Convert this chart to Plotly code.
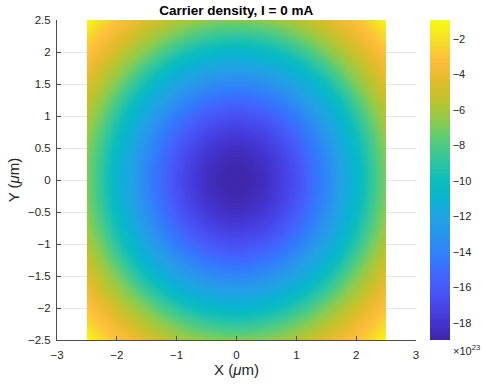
import numpy as np
import plotly.graph_objects as go

# Grid positions (µm) used on both axes
axis_um = [-2.5, -2.25, -2.0, -1.75, -1.5, -1.25, -1.0, -0.75, -0.5, -0.25, 0.0,
           0.25, 0.5, 0.75, 1.0, 1.25, 1.5, 1.75, 2.0, 2.25, 2.5]

# Carrier density (x 1e23) on the quadrant x, y = 0, 0.25, ..., 2.5 µm
# rows: y index, columns: x index
quadrant_density = [
    [-18.95, -18.75, -18.30, -17.50, -16.50, -15.20, -13.80, -12.20, -10.80, -8.90, -6.90],
    [-18.75, -18.56, -18.11, -17.34, -16.34, -15.06, -13.67, -12.10, -10.68, -8.79, -6.83],
    [-18.30, -18.11, -17.64, -16.89, -15.89, -14.66, -13.28, -11.81, -10.33, -8.46, -6.60],
    [-17.50, -17.34, -16.89, -16.18, -15.20, -14.04, -12.67, -11.34, -9.77, -7.93, -6.24],
    [-16.50, -16.34, -15.89, -15.20, -14.28, -13.16, -11.90, -10.68, -9.01, -7.20, -5.75],
    [-15.20, -15.06, -14.66, -14.04, -13.16, -12.10, -11.07, -9.66, -8.03, -6.46, -5.17],
    [-13.80, -13.67, -13.28, -12.67, -11.90, -11.07, -9.88, -8.46, -6.90, -5.67, -4.54],
    [-12.20, -12.10, -11.81, -11.34, -10.68, -9.66, -8.46, -7.10, -5.96, -4.88, -3.83],
    [-10.80, -10.68, -10.33, -9.77, -9.01, -8.03, -6.90, -5.96, -4.99, -4.05, -3.05],
    [-8.90, -8.79, -8.46, -7.93, -7.20, -6.46, -5.67, -4.88, -4.05, -3.15, -2.10],
    [-6.90, -6.83, -6.60, -6.24, -5.75, -5.17, -4.54, -3.83, -3.05, -2.10, -1.00],
]

cbar_ticks = [-18, -16, -14, -12, -10, -8, -6, -4, -2]
z_min, z_max = -18.95, -0.95

# parula-like colour map
parula = [
    [0.000, "rgb(62,38,168)"],
    [0.063, "rgb(69,55,213)"],
    [0.125, "rgb(72,76,240)"],
    [0.188, "rgb(69,98,252)"],
    [0.250, "rgb(51,122,253)"],
    [0.313, "rgb(44,144,240)"],
    [0.375, "rgb(34,162,228)"],
    [0.438, "rgb(11,179,210)"],
    [0.500, "rgb(13,189,188)"],
    [0.563, "rgb(50,198,159)"],
    [0.625, "rgb(87,204,122)"],
    [0.688, "rgb(143,203,78)"],
    [0.750, "rgb(190,195,45)"],
    [0.813, "rgb(230,187,45)"],
    [0.875, "rgb(254,190,60)"],
    [0.938, "rgb(245,222,40)"],
    [1.000, "rgb(249,251,14)"],
]

q = np.array(quadrant_density)
half = np.vstack([q[::-1], q[1:]])
density = np.hstack([half[:, ::-1], half[:, 1:]])

FONT = "Liberation Sans, Arial, sans-serif"

fig = go.Figure()
fig.add_trace(go.Contour(
    x=axis_um, y=axis_um, z=density,
    autocontour=False,
    contours=dict(start=z_min, end=z_max, size=0.1, coloring="fill", showlines=False),
    line=dict(width=0),
    zauto=False, zmin=z_min, zmax=z_max,
    colorscale=parula,
    colorbar=dict(
        thickness=20, lenmode="pixels", len=320, xpad=0, ypad=0,
        x=1.039, xanchor="left", y=0.5, yanchor="middle",
        tickvals=cbar_ticks, ticks="", outlinewidth=0,
        tickfont=dict(family=FONT, size=11, color="#262626"),
    ),
))

axis_font = dict(family=FONT, size=11.5, color="#262626")
fig.update_layout(
    width=482, height=385,
    margin=dict(l=57, r=66, t=20, b=45, autoexpand=False),
    paper_bgcolor="white", plot_bgcolor="white",
    font=dict(family=FONT, color="#262626"),
    title=dict(text="<b>Carrier density, I = 0 mA</b>", x=0.49, xanchor="center",
               y=0.974, yanchor="middle", font=dict(size=13.5, color="black")),
    xaxis=dict(range=[-3, 3], tickvals=[-3, -2, -1, 0, 1, 2, 3], ticks="inside", ticklen=4,
               tickcolor="#4d4d4d", showline=True, linecolor="#4d4d4d", linewidth=1,
               showgrid=True, gridcolor="#e6e6e6", zeroline=False, tickfont=axis_font,
               ticklabelstandoff=4,
               title=dict(text="X (<i>μ</i>m)", font=dict(size=15, color="#262626"), standoff=3)),
    yaxis=dict(range=[-2.5, 2.5], dtick=0.5, ticks="inside", ticklen=4,
               tickcolor="#4d4d4d", showline=True, linecolor="#4d4d4d", linewidth=1,
               showgrid=True, gridcolor="#e6e6e6", zeroline=False, tickfont=axis_font,
               ticklabelstandoff=3,
               title=dict(text="Y (<i>μ</i>m)", font=dict(size=15, color="#262626"), standoff=4)),
    annotations=[dict(text="×10<sup>23</sup>", xref="paper", yref="paper",
                      x=1.0975, y=-0.03, xanchor="left", yanchor="middle", showarrow=False,
                      font=dict(family=FONT, size=11, color="#262626"))],
)

fig.write_html("out.html")
